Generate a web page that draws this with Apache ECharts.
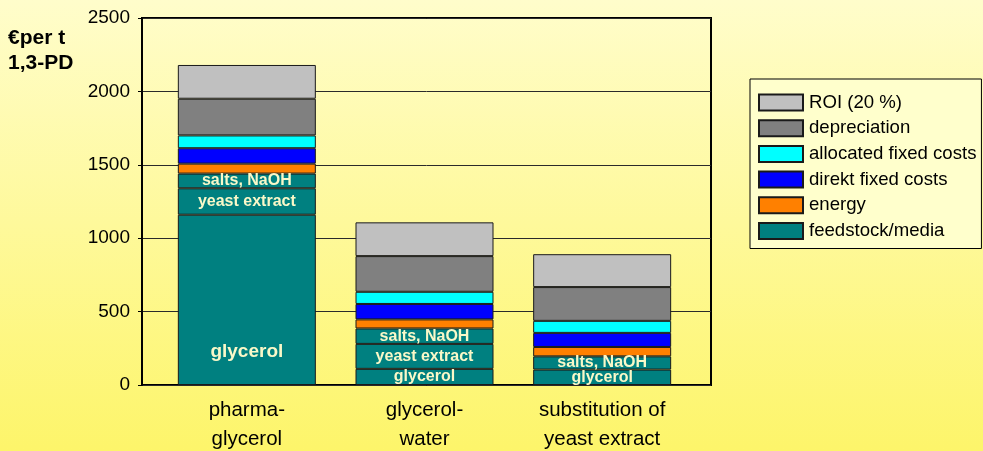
<!DOCTYPE html>
<html>
<head>
<meta charset="utf-8">
<script src="https://cdn.jsdelivr.net/npm/echarts@6/dist/echarts.min.js"></script>
<style>
  html, body { margin: 0; padding: 0; }
  #chart { width: 983px; height: 451px; }
</style>
</head>
<body>
<div id="chart"></div>
<script>
// Production cost of 1,3-propanediol by scenario (€ per t)
const categories = ['pharma-\nglycerol', 'glycerol-\nwater', 'substitution of\nyeast extract'];
const yTicks = [0, 500, 1000, 1500, 2000, 2500];

// feedstock/media is split into its components
const glycerol     = [1160, 110, 105];
const yeastExtract = [180, 170, null];
const saltsNaOH    = [100, 105, 90];
const energy       = [68, 62, 64];
const direktFixed  = [105, 105, 96];
const allocFixed   = [87, 83, 82];
const depreciation = [250, 243, 230];
const roi          = [230, 230, 224];

const legendNames = ['ROI (20 %)', 'depreciation', 'allocated fixed costs', 'direkt fixed costs', 'energy', 'feedstock/media'];

const TEAL = '#008080';
const EDGE = '#1a1a1a';
const FONT = '"Liberation Sans", Arial, sans-serif';

const segLabel = (text) => ({
  show: true,
  position: 'inside',
  formatter: text,
  color: '#FAF8C8',
  fontFamily: FONT,
  fontWeight: 'bold',
  fontSize: 16
});

function barSeries(name, values, color, label) {
  return {
    name: name,
    type: 'bar',
    xAxisIndex: 1,
    yAxisIndex: 1,
    stack: 'cost',
    barWidth: 138,
    data: values,
    itemStyle: { color: color, borderColor: EDGE, borderWidth: 1 },
    label: label || { show: false },
    emphasis: { disabled: true }
  };
}

// the big glycerol block carries a larger label near its bottom
const glycerolData = glycerol.map((v, i) => i === 0
  ? { value: v, label: { position: 'insideBottom', distance: 24, fontSize: 19 } }
  : v);

const chart = echarts.init(document.getElementById('chart'), null, { renderer: 'canvas' });

chart.setOption({
  animation: false,
  backgroundColor: {
    type: 'linear', x: 0, y: 0, x2: 0, y2: 1,
    colorStops: [
      { offset: 0, color: '#FFFDCB' },
      { offset: 1, color: '#FDF56A' }
    ]
  },
  title: {
    text: '€per t\n1,3-PD',
    left: 8,
    top: 26,
    padding: 0,
    textStyle: { fontFamily: FONT, fontWeight: 'bold', fontSize: 21, lineHeight: 25, color: '#000' }
  },
  legend: {
    data: legendNames,
    orient: 'vertical',
    left: 750,
    top: 79,
    padding: [14, 5, 8, 8],
    itemWidth: 44,
    itemHeight: 16,
    itemGap: 6.7,
    icon: 'rect',
    backgroundColor: '#FFFFCC',
    borderColor: '#000',
    borderWidth: 1,
    borderRadius: 0,
    selectedMode: false,
    textStyle: { fontFamily: FONT, fontSize: 18.6, lineHeight: 19, color: '#000', padding: [0, 0, 0, 1] }
  },
  grid: [
    { left: 142, right: 272, top: 18, bottom: 66, outerBoundsMode: 'none', show: true, borderColor: '#000', borderWidth: 2, backgroundColor: 'transparent' },
    { left: 158, right: 292, top: 18, bottom: 66, outerBoundsMode: 'none' }
  ],
  xAxis: [
    { type: 'category', gridIndex: 0, data: [''], show: false },
    {
      type: 'category',
      gridIndex: 1,
      data: categories,
      axisLine: { show: false },
      axisTick: { show: false },
      axisLabel: { fontFamily: FONT, fontSize: 20.5, lineHeight: 29, color: '#000', margin: 11 }
    }
  ],
  yAxis: [
    {
      type: 'value',
      gridIndex: 0,
      min: yTicks[0],
      max: yTicks[yTicks.length - 1],
      interval: 500,
      axisLine: { show: true, lineStyle: { color: '#000', width: 2 } },
      axisTick: { show: true, length: 4, lineStyle: { color: '#000' } },
      axisLabel: { fontFamily: FONT, fontSize: 19, color: '#000', margin: 12, formatter: (v) => String(v) },
      splitLine: { show: true, lineStyle: { color: '#2a2a2a', width: 1 } }
    },
    { type: 'value', gridIndex: 1, min: 0, max: 2500, show: false, splitLine: { show: false } }
  ],
  series: [
    barSeries('feedstock/media', glycerolData, TEAL, segLabel('glycerol')),
    barSeries('yeast extract', yeastExtract, TEAL, segLabel('yeast extract')),
    barSeries('salts, NaOH', saltsNaOH, TEAL, segLabel('salts, NaOH')),
    barSeries('energy', energy, '#FF8000'),
    barSeries('direkt fixed costs', direktFixed, '#0000FF'),
    barSeries('allocated fixed costs', allocFixed, '#00FFFF'),
    barSeries('depreciation', depreciation, '#808080'),
    barSeries('ROI (20 %)', roi, '#C0C0C0')
  ]
});
</script>
</body>
</html>
